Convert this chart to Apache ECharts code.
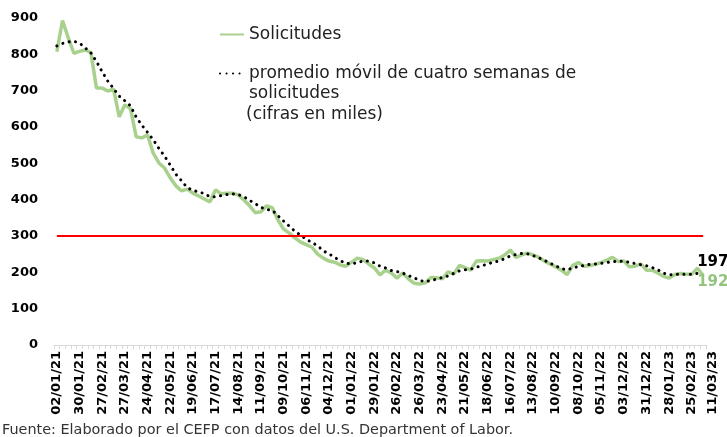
<!DOCTYPE html>
<html>
<head>
<meta charset="utf-8">
<script src="https://cdn.jsdelivr.net/npm/echarts@6/dist/echarts.min.js"></script>
<style>
  html, body { margin: 0; padding: 0; background: #fff; }
  #chart { width: 727px; height: 437px; }
</style>
</head>
<body>
<div id="chart"></div>
<script>
// semanas: sábado 02/01/2021 a sábado 11/03/2023
var startDate = Date.UTC(2021, 0, 2);
var weekCount = 115;

// solicitudes iniciales (miles)
var solicitudes = [
  807, 893, 846, 803, 808, 812, 805, 707, 707, 699,
  705, 628, 661, 650, 573, 570, 578, 528, 501, 487,
  460, 438, 424, 429, 418, 410, 402, 394, 427, 416,
  418, 418, 413, 399, 383, 364, 367, 383, 378, 344,
  319, 308, 295, 283, 276, 269, 250, 239, 231, 228,
  220, 217, 228, 239, 235, 223, 212, 193, 206, 198,
  184, 198, 182, 170, 168, 171, 186, 185, 182, 201,
  195, 219, 213, 206, 231, 232, 231, 235, 239, 248,
  261, 241, 248, 253, 248, 241, 231, 223, 215, 206,
  194, 219, 227, 217, 219, 222, 227, 234, 241, 230,
  231, 215, 217, 223, 206, 206, 198, 189, 184, 194,
  197, 195, 195, 211, 192
];

// promedio móvil de cuatro semanas (miles)
var promedioMovil = [
  823, 830, 834, 836, 831, 818, 804, 780, 752, 726,
  706, 685, 672, 658, 627, 605, 585, 565, 541, 520,
  495, 470, 452, 433, 426, 421, 417, 408, 408, 411,
  414, 416, 414, 408, 398, 389, 379, 373, 371, 356,
  341, 327, 313, 302, 291, 282, 273, 259, 251, 241,
  232, 225, 223, 227, 231, 231, 226, 217, 212, 205,
  202, 198, 191, 185, 178, 174, 178, 181, 186, 190,
  197, 204, 207, 209, 214, 218, 223, 228, 231, 238,
  245, 249, 252, 251, 246, 240, 233, 225, 218, 210,
  207, 212, 216, 219, 222, 223, 225, 227, 229, 231,
  230, 228, 224, 221, 218, 213, 207, 198, 193, 194,
  195, 195, 195, 197, 197
];

var umbral = 300;
var yTicks = { min: 0, max: 900, step: 100 };

function pad2(n) { return (n < 10 ? "0" : "") + n; }
var categories = [];
for (var i = 0; i < weekCount; i++) {
  var d = new Date(startDate + i * 7 * 86400000);
  categories.push(pad2(d.getUTCDate()) + "/" + pad2(d.getUTCMonth() + 1) + "/" + String(d.getUTCFullYear()).slice(2));
}
var lastIdx = categories.length - 1;

var green = "#a9d18e";
var font = "DejaVu Sans";

var myChart = echarts.init(document.getElementById("chart"), null, { renderer: "canvas" });
var option = {
  backgroundColor: "#fff",
  animation: false,
  grid: { left: 54, right: 21, top: 18, bottom: 92 },
  legend: [
    {
      data: [{ name: "Solicitudes" }],
      left: 214,
      top: 21,
      itemWidth: 24,
      itemHeight: 14,
      itemStyle: { opacity: 0 },
      textStyle: { fontFamily: font, fontSize: 17, color: "#222" },
    },
    {
      data: [{ name: "promedio móvil de cuatro semanas de" }],
      left: 214,
      top: 60,
      itemWidth: 24,
      itemHeight: 14,
      itemStyle: { opacity: 0 },
      textStyle: { fontFamily: font, fontSize: 17, color: "#222" },
    },
  ],
  graphic: [
    { type: "text", left: 249, top: 85, style: { text: "solicitudes", font: '17px "DejaVu Sans"', fill: "#222" } },
    { type: "text", left: 246, top: 106, style: { text: "(cifras en miles)", font: '17px "DejaVu Sans"', fill: "#222" } },
    { type: "text", left: 2, top: 423, style: { text: "Fuente: Elaborado por el CEFP con datos del U.S. Department of Labor.", font: '14.4px "DejaVu Sans"', fill: "#333" } },
  ],
  xAxis: {
    type: "category",
    data: categories,
    boundaryGap: true,
    axisLine: { lineStyle: { color: "#d9d9d9", width: 1 } },
    axisTick: { show: true, interval: 0, length: 4, lineStyle: { color: "#d9d9d9" } },
    axisLabel: {
      rotate: 90,
      margin: 6,
      hideOverlap: false,
      showMaxLabel: true,
      interval: function (idx) { return idx % 4 === 0 || idx === lastIdx; },
      formatter: function (value, idx) {
        return idx === lastIdx ? "{last|" + value + "}" : value;
      },
      rich: {
        last: { padding: [18, 0, 0, 0], fontFamily: font, fontWeight: "bold", fontSize: 13, color: "#000" },
      },
      fontFamily: font,
      fontWeight: "bold",
      fontSize: 13,
      color: "#000",
    },
  },
  yAxis: {
    type: "value",
    min: yTicks.min,
    max: yTicks.max,
    interval: yTicks.step,
    axisLine: { show: false },
    axisTick: { show: false },
    splitLine: { show: false },
    axisLabel: { margin: 16, fontFamily: font, fontWeight: "bold", fontSize: 13, color: "#000" },
  },
  series: [
    {
      name: "Solicitudes",
      type: "line",
      data: solicitudes,
      symbol: "none",
      lineStyle: { color: green, width: 3.5 },
      itemStyle: { color: green },
      endLabel: {
        show: true,
        formatter: function (p) { return p.value; },
        offset: [-14, 7],
        fontFamily: font,
        fontWeight: "bold",
        fontSize: 15,
        color: "#93c47d",
      },
      markLine: {
        silent: true,
        symbol: "none",
        label: { show: false },
        lineStyle: { color: "#ff0000", width: 2, type: "solid" },
        data: [[{ coord: [categories[0], umbral] }, { coord: [categories[lastIdx], umbral] }]],
      },
    },
    {
      name: "promedio móvil de cuatro semanas de",
      type: "line",
      data: promedioMovil,
      symbol: "none",
      lineStyle: { color: "#000", width: 3, type: [0.1, 6.4], cap: "round" },
      itemStyle: { color: "#000" },
      endLabel: {
        show: true,
        formatter: function (p) { return p.value; },
        offset: [-14, -11],
        fontFamily: font,
        fontWeight: "bold",
        fontSize: 15,
        color: "#000",
      },
    },
  ],
};
option && myChart.setOption(option);
</script>
</body>
</html>
